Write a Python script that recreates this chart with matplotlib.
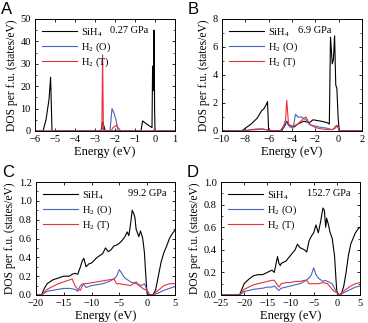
import matplotlib
matplotlib.use("Agg")
import matplotlib.pyplot as plt
from matplotlib.ticker import AutoMinorLocator

plt.rcParams['font.family'] = ['Liberation Serif', 'DejaVu Serif']
plt.rcParams['mathtext.fontset'] = 'custom'
plt.rcParams['mathtext.rm'] = 'Liberation Serif'

BLACK = '#000000'
BLUE = '#4466bb'
RED = '#e8303c'

# Panel A (0.27 GPa)
a_sih4_x = [-6, -5.6, -5.45, -5.3, -5.22, -5.15, -5.1, -2.7, -2.62, -2.55, -2.5, -2.45, -0.7, -0.62, -0.4, -0.15, -0.12, -0.08, -0.05, -0.02, 0.0, 1.0]
a_sih4_y = [0, 0, 5, 14, 24, 0, 0, 0, 4, 2, 0.5, 0, 0, 4.5, 3.0, 1.5, 29, 18, 45, 10, 0, 0]
a_h2o_x = [-6, -2.7, -2.6, -2.5, -2.25, -2.15, -2.05, -1.95, -1.85, -1.8, -0.1, 0.0, 0.05, 1.0]
a_h2o_y = [0, 0, 1.5, 0, 0, 10, 8, 5, 0.5, 0, 0, 0.8, 0, 0]
a_h2t_x = [-6, -2.66, -2.62, -2.58, -2.5, -2.2, -2.1, -1.95, -1.8, -1.7, -0.1, 0.0, 0.05, 1.0]
a_h2t_y = [0, 0, 34, 0, 0, 0, 1.5, 2.5, 1, 0, 0, 1, 0, 0]

# Panel B (6.9 GPa)
b_sih4_x = [-10, -8.3, -8.0, -7.5, -7.0, -6.6, -6.4, -6.2, -6.1, -6.0, -4.9, -4.6, -4.45, -4.3, -4.0, -3.8, -3.5, -3.0, -2.5, -2.2, -1.5, -1.0, -0.8, -0.7, -0.55, -0.45, -0.35, -0.25, -0.15, -0.05, 0.05, 2.0]
b_sih4_y = [0, 0, 0.2, 0.5, 0.9, 1.45, 1.6, 1.9, 2.1, 0, 0, 0.4, 0.7, 0.45, 0.35, 0.3, 0.5, 0.7, 0.6, 0.8, 0.7, 0.6, 0.5, 6.7, 4.8, 5.1, 6.8, 3.3, 3.0, 1.0, 0, 0]
b_h2o_x = [-10, -8.2, -8.0, -7.0, -6.5, -6.0, -5.0, -4.8, -4.5, -4.2, -3.9, -3.7, -3.5, -3.2, -2.8, -2.5, -2.0, -1.5, -1.0, -0.6, -0.3, -0.1, 0.05, 2.0]
b_h2o_y = [0, 0, 0.05, 0.1, 0.12, 0.05, 0, 0.2, 0.65, 0.3, 0.2, 1.2, 1.0, 1.0, 0.8, 0.45, 0.35, 0.25, 0.2, 0.1, 0.2, 0.4, 0, 0]
b_h2t_x = [-10, -8.0, -7.5, -7.0, -6.5, -6.0, -5.0, -4.7, -4.55, -4.45, -4.3, -4.0, -3.5, -3.0, -2.8, -2.5, -2.0, -1.5, -1.0, -0.5, -0.2, -0.1, 0.05, 2.0]
b_h2t_y = [0, 0, 0.1, 0.15, 0.15, 0.05, 0, 0.4, 0.8, 2.2, 0.5, 0.3, 0.5, 0.9, 1.0, 0.5, 0.25, 0.15, 0.1, 0.1, 0.4, 0.35, 0, 0]

# Panel C (99.2 GPa)
c_sih4_x = [-20, -19, -18.5, -18, -17, -16, -15, -14, -13.5, -13, -12.5, -12, -11.7, -11.4, -11, -10.5, -10, -9.5, -9, -8.5, -8, -7.5, -7, -6.5, -6, -5.5, -5, -4.5, -4, -3.6, -3.3, -3, -2.7, -2.4, -2.2, -2, -1.5, -1.2, -0.8, -0.5, -0.3, -0.1, 0, 0.5, 1, 1.5, 2, 2.5, 3, 3.5, 4, 4.5, 5]
c_sih4_y = [0, 0, 0.07, 0.12, 0.16, 0.18, 0.2, 0.2, 0.22, 0.23, 0.22, 0.3, 0.36, 0.39, 0.3, 0.33, 0.34, 0.37, 0.4, 0.42, 0.44, 0.5, 0.46, 0.48, 0.52, 0.53, 0.55, 0.58, 0.62, 0.67, 0.63, 0.75, 0.9, 0.86, 0.82, 0.7, 0.62, 0.68, 0.6, 0.45, 0.25, 0.08, 0.01, 0, 0, 0.05, 0.2, 0.35, 0.45, 0.52, 0.6, 0.65, 0.69]
c_h2o_x = [-20, -19, -18, -17, -16, -15, -14, -13, -12.5, -12, -11.5, -11, -10, -9, -8, -7, -6, -5.5, -5, -4.5, -4, -3, -2, -1, -0.5, -0.2, 0, 0.5, 1, 2, 3, 4, 5]
c_h2o_y = [0, 0, 0.04, 0.05, 0.06, 0.07, 0.07, 0.06, 0.04, 0.1, 0.12, 0.08, 0.1, 0.11, 0.12, 0.14, 0.17, 0.2, 0.27, 0.22, 0.18, 0.14, 0.12, 0.1, 0.12, 0.08, 0.02, 0, 0, 0.02, 0.05, 0.07, 0.09]
c_h2t_x = [-20, -19, -18, -17, -16, -15, -14.5, -14, -13.5, -13, -12.5, -12, -11.5, -11, -10, -9, -8, -7, -6, -5.5, -5, -4, -3, -2, -1.5, -1, -0.5, 0, 0.5, 1, 2, 3, 4, 5]
c_h2t_y = [0, 0, 0.06, 0.09, 0.12, 0.14, 0.15, 0.16, 0.17, 0.1, 0.06, 0.05, 0.12, 0.12, 0.13, 0.14, 0.15, 0.16, 0.17, 0.12, 0.12, 0.11, 0.1, 0.14, 0.1, 0.08, 0.06, 0.05, 0, 0, 0.05, 0.1, 0.12, 0.12]

# Panel D (152.7 GPa)
d_sih4_x = [-25, -21, -20.5, -20, -19, -18, -17, -16, -15, -14.5, -14, -13.5, -13, -12.8, -12.5, -12.2, -12, -11, -10, -9, -8.5, -8, -7.5, -7, -6.5, -6, -5.5, -5, -4.5, -4, -3.5, -3, -2.7, -2.4, -2.2, -1.8, -1.5, -1, -0.5, -0.2, 0, 0.5, 1, 1.5, 2, 2.5, 3, 3.5, 4, 4.5, 5]
d_sih4_y = [0, 0, 0.05, 0.1, 0.14, 0.17, 0.18, 0.18, 0.2, 0.21, 0.22, 0.2, 0.3, 0.34, 0.28, 0.26, 0.28, 0.3, 0.35, 0.4, 0.45, 0.42, 0.41, 0.4, 0.38, 0.48, 0.52, 0.55, 0.62, 0.55, 0.65, 0.77, 0.75, 0.6, 0.68, 0.62, 0.56, 0.5, 0.35, 0.15, 0.03, 0, 0.01, 0.08, 0.2, 0.35, 0.45, 0.5, 0.55, 0.58, 0.6]
d_h2o_x = [-25, -21, -20, -19, -18, -16, -15, -14, -13.5, -13, -12.5, -12, -11, -10, -9, -8, -7, -6, -5.5, -5, -4.5, -4, -3, -2.5, -2, -1, -0.5, 0, 0.5, 1, 2, 3, 4, 5]
d_h2o_y = [0, 0, 0.03, 0.04, 0.05, 0.06, 0.07, 0.07, 0.08, 0.06, 0.04, 0.06, 0.07, 0.08, 0.09, 0.1, 0.12, 0.15, 0.18, 0.24, 0.18, 0.15, 0.12, 0.13, 0.12, 0.1, 0.06, 0.02, 0, 0.01, 0.03, 0.05, 0.07, 0.08]
d_h2t_x = [-25, -21, -20, -19, -18, -17, -16, -15, -14, -13.5, -13, -12.5, -12, -11, -10, -9, -8, -7, -6.5, -6, -5, -4, -3, -2, -1, -0.5, 0, 0.5, 1, 2, 3, 4, 5]
d_h2t_y = [0, 0, 0.05, 0.07, 0.09, 0.1, 0.11, 0.12, 0.13, 0.13, 0.1, 0.07, 0.1, 0.11, 0.11, 0.12, 0.12, 0.13, 0.13, 0.1, 0.1, 0.1, 0.11, 0.1, 0.05, 0.03, 0.02, 0, 0.02, 0.05, 0.08, 0.1, 0.11]

panels = [
    dict(letter='A', p='0.27 GPa', px=0.81, xlim=(-6, 1), xt=range(-6, 2, 1), ylim=(0, 50), yt=range(0, 51, 10),
         data=[(a_sih4_x, a_sih4_y), (a_h2o_x, a_h2o_y), (a_h2t_x, a_h2t_y)],
         rect=[35/368, 1-131/323, 140/368, 112/323]),
    dict(letter='B', p='6.9 GPa', px=0.78, xlim=(-10, 2), xt=range(-10, 3, 2), ylim=(0, 8), yt=range(0, 9, 2),
         data=[(b_sih4_x, b_sih4_y), (b_h2o_x, b_h2o_y), (b_h2t_x, b_h2t_y)],
         rect=[222/368, 1-131/323, 140/368, 112/323]),
    dict(letter='C', p='99.2 GPa', px=0.94, xlim=(-20, 5), xt=range(-20, 6, 5), ylim=(0, 1.2), yt=[0, 0.2, 0.4, 0.6, 0.8, 1.0, 1.2],
         data=[(c_sih4_x, c_sih4_y), (c_h2o_x, c_h2o_y), (c_h2t_x, c_h2t_y)],
         rect=[36/368, 1-295/323, 139/368, 113/323]),
    dict(letter='D', p='152.7 GPa', px=0.935, xlim=(-25, 5), xt=range(-25, 6, 5), ylim=(0, 1.0), yt=[0, 0.2, 0.4, 0.6, 0.8, 1.0],
         data=[(d_sih4_x, d_sih4_y), (d_h2o_x, d_h2o_y), (d_h2t_x, d_h2t_y)],
         rect=[221/368, 1-295/323, 139/368, 113/323]),
]

labels = ['SiH$_4$', 'H$_2$ (O)', 'H$_2$ (T)']
colors = [BLACK, BLUE, RED]

fig = plt.figure(figsize=(3.68, 3.23), dpi=100)
for pn in panels:
    ax = fig.add_axes(pn['rect'])
    for (x, y), c, lab in zip(pn['data'], colors, labels):
        ax.plot(x, y, color=c, lw=0.8, label=lab)
    ax.set_xlim(*pn['xlim'])
    ax.set_ylim(*pn['ylim'])
    ax.set_xticks(list(pn['xt']))
    ax.set_yticks(list(pn['yt']))
    if isinstance(pn['yt'][1], float):
        ax.set_yticklabels([f'{v:.1f}' for v in pn['yt']])
    ax.yaxis.set_minor_locator(AutoMinorLocator(2))
    ax.tick_params(direction='in', top=True, right=True, labelsize=7.5, length=2.5, width=0.6)
    ax.tick_params(axis='x', pad=3)
    ax.tick_params(axis='y', pad=3)
    ax.tick_params(which='minor', direction='in', right=True, left=True, length=1.5, width=0.5)
    for s in ax.spines.values():
        s.set_linewidth(0.7)
    ax.set_xlabel('Energy (eV)', fontsize=9, labelpad=1)
    ax.set_ylabel('DOS per f.u. (states/eV)', fontsize=8.3, labelpad=2)
    ax.legend(loc='upper left', frameon=False, fontsize=7.5, handlelength=3.4, handletextpad=0.4,
              labelspacing=0.15, borderaxespad=0.25)
    ax.text(pn['px'], 0.94, pn['p'], transform=ax.transAxes, ha='right', va='top', fontsize=7.5)
    x0 = pn['rect'][0]
    y1 = pn['rect'][1] + pn['rect'][3]
    fig.text(x0 - 34/368, y1 + 17/323, pn['letter'], fontsize=12, family='Liberation Sans', ha='left', va='top')

fig.savefig('out.png', dpi=100)
